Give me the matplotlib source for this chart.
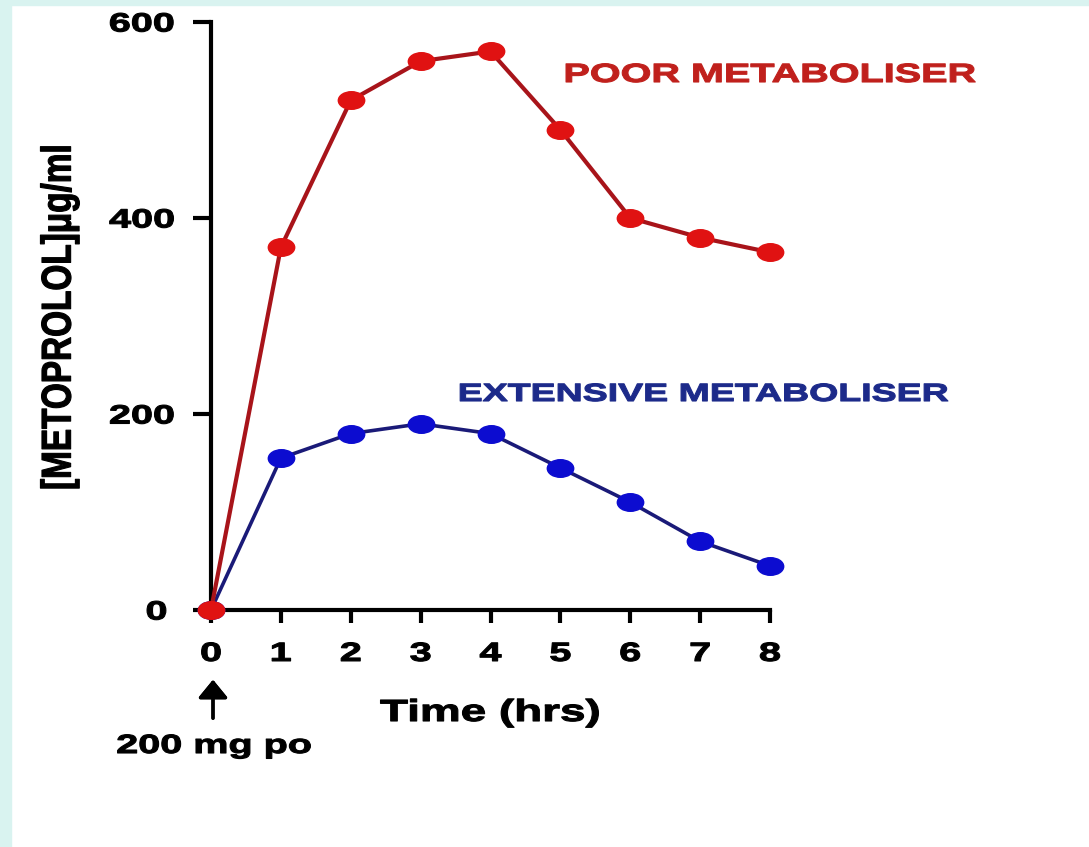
import numpy as np
import matplotlib
matplotlib.use('Agg')
import matplotlib.pyplot as plt
from matplotlib.patches import Rectangle
from matplotlib.patheffects import AbstractPathEffect
from matplotlib.transforms import Affine2D
from matplotlib.path import Path

# Data
hours = [0, 1, 2, 3, 4, 5, 6, 7, 8]
poor = [0, 370, 520, 560, 570, 490, 400, 380, 365]
extensive = [0, 155, 180, 190, 180, 145, 110, 70, 45]
x_ticks = [0, 1, 2, 3, 4, 5, 6, 7, 8]
y_ticks = [0, 200, 400, 600]


class Widen(AbstractPathEffect):
    """Stretch glyphs around their centre and thicken them a little
    (the source image is widened and its type is heavy)."""
    def __init__(self, sx=1.0, sy=1.0, stroke=1.0):
        super().__init__()
        self.sx, self.sy, self.stroke = sx, sy, stroke

    def draw_path(self, renderer, gc, tpath, affine, rgbFace=None):
        ext = tpath.get_extents()
        cx, cy = (ext.x0 + ext.x1) / 2, (ext.y0 + ext.y1) / 2
        t = Affine2D().translate(-cx, -cy).scale(self.sx, self.sy).translate(cx, cy)
        gc0 = renderer.new_gc()
        gc0.copy_properties(gc)
        gc0.set_linewidth(self.stroke)
        gc0.set_foreground(rgbFace)
        gc0.set_joinstyle('round')
        renderer.draw_path(gc0, tpath, t + affine, rgbFace)
        gc0.restore()


plt.rcParams['font.family'] = ['Liberation Sans', 'DejaVu Sans']
plt.rcParams['font.weight'] = 'bold'

W, H = 1089, 847
fig = plt.figure(figsize=(W / 100, H / 100), dpi=100, facecolor='white')

# light cyan frame strips (left and top)
cyan = '#d9f3f0'
fig.patches.append(Rectangle((0, 0), 11 / W, 1, transform=fig.transFigure, color=cyan, zorder=0))
fig.patches.append(Rectangle((0, 1 - 5 / H), 1, 5 / H, transform=fig.transFigure, color=cyan, zorder=0))

ax = fig.add_axes([211 / W, (H - 610) / H, (770 - 211) / W, (610 - 22) / H])
ax.set_facecolor('none')

# ellipse marker (image is stretched horizontally)
ellipse = Path.unit_circle().transformed(Affine2D().scale(1.5, 1.0))

ax.plot(hours, extensive, color='#1a1a78', lw=2.6, marker=ellipse, ms=19,
        mfc='#0c0cd0', mec='#0c0cd0', clip_on=False, zorder=3)
ax.plot(hours, poor, color='#a8141a', lw=3.0, marker=ellipse, ms=19,
        mfc='#e01212', mec='#e01212', clip_on=False, zorder=4)

ax.set_xlim(0, 8)
ax.set_ylim(0, 600)
ax.set_xticks(x_ticks)
ax.set_yticks(y_ticks)
for s in ['top', 'right']:
    ax.spines[s].set_visible(False)
for s in ['left', 'bottom']:
    ax.spines[s].set_linewidth(3)
ax.tick_params(axis='y', direction='out', length=13, width=3, pad=21, labelsize=19)
ax.tick_params(axis='x', direction='out', length=9, width=3, pad=14, labelsize=19)

wide = [Widen(1.5, 1.0, 0.8)]
for lab in ax.get_xticklabels() + ax.get_yticklabels():
    lab.set_fontweight('bold')
    lab.set_path_effects(wide)

fig.text((562 + 208) / W, 1 - 75 / H, 'POOR METABOLISER', color='#c0201c', fontsize=19,
         fontweight='bold', ha='center', va='center', path_effects=wide)
fig.text((457 + 246) / W, 1 - 394 / H, 'EXTENSIVE METABOLISER', color='#1c2a8a',
         fontsize=18, fontweight='bold', ha='center', va='center', path_effects=wide)

fig.text(490 / W, 1 - 713 / H, 'Time (hrs)', fontsize=22, fontweight='bold',
         ha='center', va='center', path_effects=wide)
fig.text(214 / W, 1 - 746 / H, '200 mg po', fontsize=19, fontweight='bold',
         ha='center', va='center', path_effects=wide)
fig.text(60 / W, 1 - 317 / H, '[METOPROLOL]\u03bcg/ml', fontsize=24, fontweight='bold',
         rotation=90, ha='center', va='center', path_effects=[Widen(1.0, 1.25, 0.8)])

# dose arrow
fig.add_artist(plt.annotate('', xy=(213 / W, 1 - 677 / H), xytext=(213 / W, 1 - 721 / H),
               xycoords='figure fraction', textcoords='figure fraction',
               arrowprops=dict(arrowstyle='-|>,head_length=0.55,head_width=0.45',
                               mutation_scale=20, lw=2.4, color='black')))

fig.savefig('out.png', dpi=100, facecolor='white')
